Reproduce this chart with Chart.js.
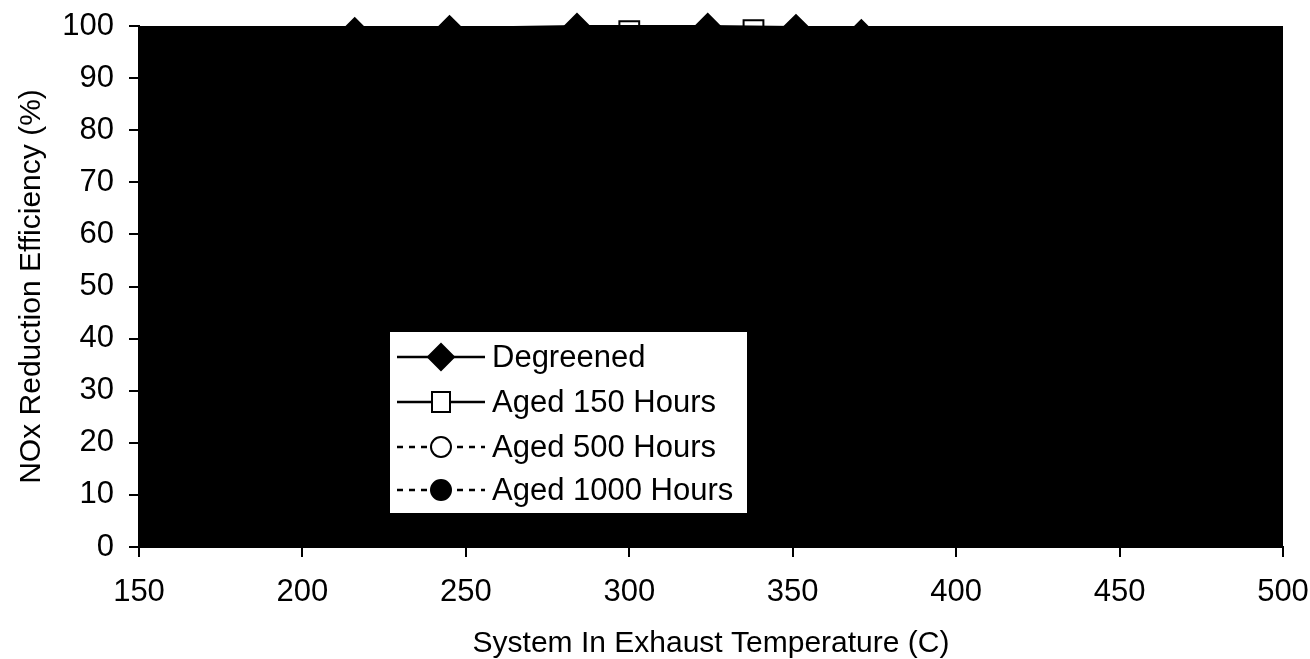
<!DOCTYPE html>
<html>
<head>
<meta charset="utf-8">
<script src="https://cdn.jsdelivr.net/npm/chart.js@4/dist/chart.umd.min.js"></script>
<style>
    body { margin: 0; background: #fff; }
    #wrap { width: 1310px; height: 659px; }
</style>
</head>
<body>
<div id="wrap"><canvas id="NoxChart" width="1310" height="659"></canvas></div>
<script>
    // values (only the points on the 100% line can be seen)
    var degreenedTemps = [216, 245, 284, 324, 351, 371];
    var degreenedEff = [99.2, 99.6, 100, 100, 99.8, 98.8];
    var aged150Temps = [300, 338];
    var aged150Eff = [99.0, 99.2];
    var aged500Temps = [];
    var aged500Eff = [];
    var aged1000Temps = [];
    var aged1000Eff = [];

    var seriesLabels = ['Degreened', 'Aged 150 Hours', 'Aged 500 Hours', 'Aged 1000 Hours'];
    var xTickValues = [150, 200, 250, 300, 350, 400, 450, 500];
    var yTickValues = [0, 10, 20, 30, 40, 50, 60, 70, 80, 90, 100];

    var FONT = '"Liberation Sans", Arial, sans-serif';

    function toPoints(xs, ys) {
        var pts = [];
        for (var i = 0; i < xs.length; i++) {
            pts.push({x: xs[i], y: ys[i]});
        }
        return pts;
    }

    // the plot area of the original is solid black
    var blackArea = {
        id: 'blackArea',
        beforeDatasetsDraw: function(chart) {
            var a = chart.chartArea;
            var ctx = chart.ctx;
            ctx.save();
            ctx.fillStyle = '#000';
            ctx.fillRect(a.left, a.top, a.right - a.left, a.bottom - a.top);
            ctx.restore();
        }
    };

    function drawMarker(ctx, style, x, y) {
        ctx.beginPath();
        if (style.pointStyle === 'rectRot') {
            var r = 13;
            ctx.moveTo(x - r, y); ctx.lineTo(x, y - r); ctx.lineTo(x + r, y); ctx.lineTo(x, y + r);
            ctx.closePath();
        } else if (style.pointStyle === 'rect') {
            ctx.rect(x - 9, y - 10, 18, 20);
        } else {
            ctx.arc(x, y, 10, 0, Math.PI * 2);
        }
        // open markers are see-through on the plot, white in the legend
        ctx.fillStyle = style.pointBackgroundColor === '#000' ? '#000' : '#fff';
        ctx.fill();
        ctx.lineWidth = 2;
        ctx.strokeStyle = '#000';
        ctx.stroke();
    }

    // boxed legend that sits inside the plot, like the original
    var boxLegend = {
        id: 'boxLegend',
        afterDraw: function(chart) {
            var ctx = chart.ctx;
            var x0 = 389, y0 = 331, w = 359, h = 183;
            var rows = [357, 402, 447, 490];
            ctx.save();
            ctx.fillStyle = '#fff';
            ctx.fillRect(x0, y0, w, h);
            ctx.lineWidth = 2;
            ctx.strokeStyle = '#000';
            ctx.strokeRect(x0, y0, w, h);
            chart.data.datasets.forEach(function(ds, i) {
                var y = rows[i];
                ctx.beginPath();
                ctx.setLineDash(ds.borderDash || []);
                ctx.lineWidth = 2.5;
                ctx.strokeStyle = '#000';
                ctx.moveTo(397, y);
                ctx.lineTo(485, y);
                ctx.stroke();
                ctx.setLineDash([]);
                drawMarker(ctx, ds, 441, y);
                ctx.fillStyle = '#000';
                ctx.font = '31px ' + FONT;
                ctx.textBaseline = 'middle';
                ctx.textAlign = 'left';
                ctx.fillText(ds.label, 492, y + 1);
            });
            ctx.restore();
        }
    };

    function makeSet(label, pts, style, fill, dash) {
        return {
            label: label,
            data: pts,
            showLine: true,
            borderColor: '#000',
            borderWidth: 2,
            borderDash: dash,
            pointStyle: style,
            pointRadius: style === 'rect' ? 14 : (style === 'rectRot' ? 12 : 10),
            pointBackgroundColor: fill,
            pointBorderColor: '#000',
            pointBorderWidth: 2,
            clip: false
        };
    }

    var ctx = document.getElementById('NoxChart');
    var NoxChart = new Chart(ctx, {
        type: 'scatter',
        data: {
            datasets: [
                makeSet(seriesLabels[0], toPoints(degreenedTemps, degreenedEff), 'rectRot', '#000', []),
                makeSet(seriesLabels[1], toPoints(aged150Temps, aged150Eff), 'rect', 'rgba(0,0,0,0)', []),
                makeSet(seriesLabels[2], toPoints(aged500Temps, aged500Eff), 'circle', 'rgba(0,0,0,0)', [6, 6]),
                makeSet(seriesLabels[3], toPoints(aged1000Temps, aged1000Eff), 'circle', '#000', [6, 6])
            ]
        },
        options: {
            responsive: false,
            animation: false,
            layout: { padding: {top: 26, right: 27, left: 0, bottom: 0} },
            plugins: {
                legend: { display: false },
                tooltip: { enabled: false }
            },
            scales: {
                x: {
                    type: 'linear',
                    min: 150,
                    max: 500,
                    afterBuildTicks: function(scale) {
                        scale.ticks = xTickValues.map(function(v) { return {value: v}; });
                    },
                    afterFit: function(scale) {
                        scale.height = 112;
                        scale.paddingLeft = 0;
                        scale.paddingRight = 0;
                    },
                    grid: { drawOnChartArea: false, drawTicks: true, tickLength: 10, color: '#000', lineWidth: 2 },
                    border: { display: true, color: '#000', width: 2 },
                    ticks: { color: '#000', padding: 17, font: {family: FONT, size: 31} },
                    title: {
                        display: true,
                        text: 'System In Exhaust Temperature (C)',
                        color: '#000',
                        padding: {top: 0, bottom: -3},
                        font: {family: FONT, size: 30}
                    }
                },
                y: {
                    min: 0,
                    max: 100,
                    afterBuildTicks: function(scale) {
                        scale.ticks = yTickValues.map(function(v) { return {value: v}; });
                    },
                    afterFit: function(scale) {
                        scale.width = 139;
                        scale.paddingTop = 0;
                        scale.paddingBottom = 0;
                    },
                    grid: { drawOnChartArea: false, drawTicks: true, tickLength: 10, color: '#000', lineWidth: 2 },
                    border: { display: true, color: '#000', width: 2 },
                    ticks: { color: '#000', padding: 15, font: {family: FONT, size: 31} },
                    title: {
                        display: true,
                        text: 'NOx Reduction Efficiency (%)',
                        color: '#000',
                        padding: {top: 14, bottom: 0},
                        font: {family: FONT, size: 30}
                    }
                }
            }
        },
        plugins: [blackArea, boxLegend]
    });
</script>
</body>
</html>
